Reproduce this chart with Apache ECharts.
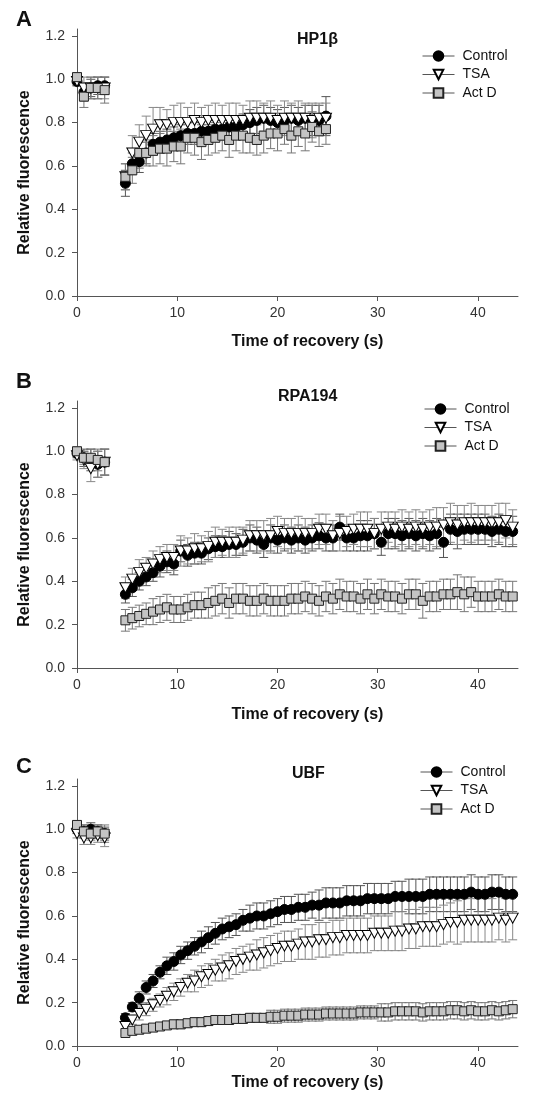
<!DOCTYPE html>
<html><head><meta charset="utf-8">
<script src="https://cdn.jsdelivr.net/npm/echarts@6/dist/echarts.min.js"></script>
<style>html,body{margin:0;padding:0;background:#fff}#c{width:542px;height:1097px}</style>
</head><body><div id="c"></div>
<script>
// ---------- DATA ----------
const timeA = [0,0.69,1.38,2.07,2.76, 4.83,5.52,6.21,6.90,7.59, 8.28,8.97,9.66,10.35,11.04, 11.73,12.42,13.11,13.80,14.49, 15.18,15.87,16.56,17.25,17.94, 18.63,19.32,20.01,20.70,21.39, 22.08,22.77,23.46,24.15,24.84];
const timeBC = [0,0.69,1.38,2.07,2.76, 4.83,5.52,6.21,6.90,7.59, 8.28,8.97,9.66,10.35,11.04, 11.73,12.42,13.11,13.80,14.49, 15.18,15.87,16.56,17.25,17.94, 18.63,19.32,20.01,20.70,21.39, 22.08,22.77,23.46,24.15,24.84, 25.53,26.22,26.91,27.60,28.29, 28.98,29.67,30.36,31.05,31.74, 32.43,33.12,33.81,34.50,35.19, 35.88,36.57,37.26,37.95,38.64, 39.33,40.02,40.71,41.40,42.09, 42.78,43.47];

// Panel A (HP1beta)
const ctrlA = [0.99,0.94,0.96,0.97,0.97, 0.52,0.61,0.62,0.66,0.70, 0.71,0.72,0.73,0.74,0.75, 0.75,0.76,0.76,0.77,0.77, 0.78,0.78,0.79,0.80,0.81, 0.82,0.81,0.80,0.81,0.82, 0.81,0.82,0.81,0.81,0.83];
const errCtrlA = [0.02,0.04,0.04,0.04,0.04, 0.06,0.05,0.05,0.05,0.05, 0.05,0.05,0.05,0.05,0.05, 0.05,0.05,0.05,0.05,0.05, 0.05,0.05,0.05,0.06,0.06, 0.06,0.06,0.06,0.06,0.06, 0.06,0.06,0.07,0.07,0.09];
const tsaA = [0.99,0.96,0.96,0.96,0.96, 0.55,0.66,0.71,0.74,0.77, 0.79,0.79,0.80,0.80,0.80, 0.81,0.80,0.81,0.81,0.81, 0.81,0.81,0.81,0.82,0.82, 0.82,0.82,0.81,0.82,0.82, 0.82,0.82,0.81,0.82,0.82];
const errTsaA = [0.02,0.05,0.05,0.05,0.05, 0.06,0.08,0.08,0.09,0.10, 0.08,0.07,0.08,0.09,0.07, 0.08,0.07,0.07,0.08,0.07, 0.08,0.08,0.07,0.08,0.08, 0.07,0.08,0.07,0.08,0.07, 0.08,0.07,0.08,0.07,0.07];
const actA = [1.01,0.92,0.96,0.96,0.95, 0.55,0.58,0.66,0.66,0.67, 0.68,0.68,0.69,0.69,0.73, 0.73,0.71,0.72,0.73,0.74, 0.72,0.74,0.74,0.73,0.72, 0.74,0.75,0.75,0.77,0.74, 0.76,0.75,0.78,0.76,0.77];
const errActA = [0.02,0.05,0.05,0.05,0.06, 0.06,0.06,0.07,0.06,0.07, 0.07,0.08,0.07,0.08,0.07, 0.08,0.08,0.07,0.07,0.07, 0.08,0.07,0.08,0.07,0.07, 0.08,0.07,0.08,0.07,0.08, 0.07,0.08,0.07,0.07,0.07];

// Panel B (RPA194)
const ctrlB = [0.99,0.97,0.96,0.94,0.95, 0.34,0.37,0.40,0.42,0.44, 0.47,0.49,0.48,0.54,0.52, 0.53,0.53,0.55,0.56,0.56, 0.57,0.57,0.58,0.60,0.59, 0.57,0.60,0.59,0.60,0.59, 0.60,0.59,0.60,0.61,0.60, 0.60,0.65,0.60,0.60,0.61, 0.61,0.62,0.58,0.62,0.62, 0.61,0.62,0.61,0.62,0.61, 0.62,0.58,0.64,0.63,0.64, 0.64,0.64,0.64,0.63,0.64, 0.63,0.63];
const errCtrlB = [0.02,0.04,0.05,0.06,0.06, 0.04,0.04,0.04,0.04,0.04, 0.05,0.05,0.05,0.05,0.05, 0.05,0.05,0.05,0.05,0.05, 0.06,0.05,0.06,0.06,0.06, 0.06,0.06,0.06,0.06,0.06, 0.06,0.06,0.06,0.06,0.06, 0.06,0.06,0.06,0.06,0.07, 0.07,0.07,0.06,0.07,0.07, 0.07,0.07,0.07,0.07,0.07, 0.07,0.07,0.07,0.08,0.07, 0.07,0.07,0.07,0.07,0.07, 0.07,0.07];
const tsaB = [0.98,0.96,0.92,0.94,0.95, 0.37,0.41,0.44,0.46,0.48, 0.50,0.51,0.51,0.54,0.54, 0.55,0.55,0.56,0.58,0.58, 0.58,0.58,0.59,0.61,0.61, 0.61,0.61,0.63,0.62,0.62, 0.62,0.62,0.62,0.64,0.64, 0.61,0.62,0.63,0.64,0.64, 0.64,0.62,0.64,0.65,0.64, 0.65,0.64,0.65,0.64,0.65, 0.65,0.66,0.67,0.66,0.67, 0.67,0.67,0.67,0.67,0.67, 0.68,0.65];
const errTsaB = [0.02,0.04,0.06,0.06,0.06, 0.05,0.05,0.06,0.05,0.06, 0.06,0.06,0.06,0.07,0.06, 0.07,0.06,0.07,0.07,0.06, 0.07,0.07,0.06,0.07,0.07, 0.07,0.08,0.07,0.07,0.07, 0.08,0.07,0.07,0.07,0.07, 0.07,0.08,0.07,0.07,0.08, 0.08,0.07,0.08,0.07,0.08, 0.08,0.08,0.08,0.08,0.08, 0.09,0.08,0.09,0.09,0.08, 0.09,0.08,0.08,0.08,0.09, 0.08,0.08];
const actB = [1.00,0.97,0.97,0.96,0.95, 0.22,0.23,0.24,0.25,0.26, 0.27,0.28,0.27,0.27,0.28, 0.29,0.29,0.30,0.31,0.32, 0.30,0.32,0.32,0.31,0.31, 0.32,0.31,0.31,0.31,0.32, 0.32,0.33,0.32,0.31,0.33, 0.32,0.34,0.33,0.33,0.32, 0.34,0.32,0.34,0.33,0.33, 0.32,0.34,0.34,0.31,0.33, 0.33,0.34,0.34,0.35,0.34, 0.35,0.33,0.33,0.33,0.34, 0.33,0.33];
const errActB = [0.02,0.03,0.04,0.05,0.06, 0.05,0.05,0.05,0.05,0.06, 0.06,0.06,0.06,0.06,0.06, 0.06,0.06,0.07,0.07,0.07, 0.07,0.07,0.07,0.07,0.07, 0.07,0.07,0.07,0.07,0.07, 0.07,0.07,0.07,0.07,0.07, 0.07,0.07,0.07,0.07,0.07, 0.07,0.07,0.07,0.07,0.07, 0.07,0.07,0.07,0.08,0.07, 0.07,0.07,0.07,0.08,0.08, 0.07,0.07,0.07,0.07,0.07, 0.07,0.07];

// Panel C (UBF)
const ctrlC = [1.00,0.99,1.00,0.99,0.98, 0.13,0.18,0.22,0.27,0.30, 0.34,0.37,0.39,0.42,0.44, 0.46,0.48,0.50,0.52,0.54, 0.55,0.56,0.58,0.59,0.60, 0.60,0.61,0.62,0.63,0.63, 0.64,0.64,0.65,0.65,0.66, 0.66,0.66,0.67,0.67,0.67, 0.68,0.68,0.68,0.68,0.69, 0.69,0.69,0.69,0.69,0.70, 0.70,0.70,0.70,0.70,0.70, 0.71,0.70,0.70,0.71,0.71, 0.70,0.70];
const errCtrlC = [0.02,0.03,0.03,0.03,0.03, 0.02,0.02,0.03,0.03,0.03, 0.03,0.04,0.04,0.04,0.04, 0.04,0.05,0.05,0.05,0.05, 0.05,0.05,0.05,0.06,0.06, 0.06,0.06,0.06,0.06,0.06, 0.06,0.06,0.06,0.07,0.07, 0.07,0.07,0.07,0.07,0.07, 0.07,0.07,0.07,0.07,0.07, 0.07,0.08,0.08,0.08,0.08, 0.08,0.08,0.08,0.08,0.08, 0.08,0.08,0.08,0.08,0.08, 0.08,0.08];
const tsaC = [0.98,0.96,0.96,0.97,0.96, 0.09,0.12,0.15,0.17,0.19, 0.21,0.23,0.25,0.27,0.29, 0.30,0.32,0.33,0.35,0.36, 0.37,0.39,0.40,0.41,0.42, 0.43,0.44,0.45,0.46,0.46, 0.47,0.48,0.48,0.49,0.49, 0.50,0.50,0.51,0.51,0.51, 0.51,0.52,0.52,0.52,0.53, 0.53,0.54,0.54,0.55,0.55, 0.55,0.56,0.57,0.57,0.58, 0.58,0.58,0.58,0.58,0.59, 0.58,0.59];
const errTsaC = [0.02,0.03,0.03,0.03,0.04, 0.02,0.02,0.03,0.03,0.03, 0.03,0.04,0.04,0.04,0.04, 0.05,0.05,0.05,0.05,0.06, 0.06,0.06,0.06,0.06,0.07, 0.07,0.07,0.07,0.07,0.07, 0.07,0.08,0.08,0.08,0.08, 0.08,0.08,0.08,0.08,0.08, 0.08,0.08,0.08,0.08,0.09, 0.09,0.09,0.09,0.09,0.09, 0.09,0.09,0.09,0.10,0.10, 0.10,0.10,0.10,0.10,0.10, 0.10,0.10];
const actC = [1.02,0.99,0.98,0.99,0.98, 0.06,0.07,0.075,0.08,0.085, 0.09,0.095,0.10,0.10,0.105, 0.11,0.11,0.115,0.12,0.12, 0.12,0.125,0.125,0.13,0.13, 0.13,0.135,0.135,0.14,0.14, 0.14,0.145,0.145,0.145,0.15, 0.15,0.15,0.15,0.15,0.155, 0.155,0.155,0.155,0.155,0.16, 0.16,0.16,0.16,0.155,0.16, 0.16,0.16,0.165,0.165,0.16, 0.165,0.16,0.16,0.165,0.16, 0.165,0.17];
const errActC = [0.02,0.03,0.03,0.03,0.04, 0.01,0.01,0.01,0.01,0.01, 0.01,0.01,0.02,0.02,0.02, 0.02,0.02,0.02,0.02,0.02, 0.02,0.02,0.02,0.02,0.02, 0.02,0.03,0.03,0.03,0.03, 0.03,0.03,0.03,0.03,0.03, 0.03,0.03,0.03,0.03,0.03, 0.03,0.03,0.04,0.04,0.04, 0.04,0.04,0.04,0.04,0.04, 0.04,0.04,0.04,0.04,0.04, 0.04,0.04,0.04,0.04,0.04, 0.04,0.04];

const xTickValues = [0,10,20,30,40];
const yTickValues = [0,0.2,0.4,0.6,0.8,1.0,1.2];
const panelLetters = ['A','B','C'];
const panelTitles = ['HP1\u03b2','RPA194','UBF'];
const seriesNames = ['Control','TSA','Act D'];
const xAxisTitle = 'Time of recovery (s)';
const yAxisTitle = 'Relative fluorescence';

// ---------- LAYOUT / STYLE ----------
const FONT = '"Liberation Sans", Arial, Helvetica, sans-serif';
// y axis runs 0..1.232 so that its line overshoots the 1.2 tick slightly, as in the original
const Y_MAX = 1.232;
const panels = [
  {time: timeA, vals:[ctrlA,tsaA,actA], errs:[errCtrlA,errTsaA,errActA], top:29, xNameGap:38, legLeft:422, legTop:49, tLeft:297, tTop:32, letterTop:9},
  {time: timeBC, vals:[ctrlB,tsaB,actB], errs:[errCtrlB,errTsaB,errActB], top:401, xNameGap:39, legLeft:424, legTop:402, tLeft:278, tTop:389, letterTop:371},
  {time: timeBC, vals:[ctrlC,tsaC,actC], errs:[errCtrlC,errTsaC,errActC], top:779, xNameGap:29, legLeft:420, legTop:765, tLeft:292, tTop:766, letterTop:756}
];
const symbolStyles = [
  {symbol:'circle', size:10, itemStyle:{color:'#000', borderColor:'#000', borderWidth:1}, err:'#555'},
  {symbol:'path://M0,0L10,0L5,9Z', size:[11,10], itemStyle:{color:'#fff', borderColor:'#000', borderWidth:1}, err:'#888'},
  {symbol:'rect', size:9, itemStyle:{color:'#c4c4c4', borderColor:'#222', borderWidth:1}, err:'#777'}
];
const CAP = 4.5;

function errRenderer(color){
  return function(params, api){
    const x = api.value(0), lo = api.value(1), hi = api.value(2);
    const a = api.coord([x, hi]), b = api.coord([x, lo]);
    const st = {stroke: color, lineWidth: 1};
    return {type:'group', children:[
      {type:'line', shape:{x1:a[0], y1:a[1], x2:b[0], y2:b[1]}, style:st},
      {type:'line', shape:{x1:a[0]-CAP, y1:a[1], x2:a[0]+CAP, y2:a[1]}, style:st},
      {type:'line', shape:{x1:b[0]-CAP, y1:b[1], x2:b[0]+CAP, y2:b[1]}, style:st}
    ]};
  };
}

const grid = [], xAxis = [], yAxis = [], series = [], legend = [], title = [];
panels.forEach((p, pi) => {
  grid.push({left:77, width:441, top:p.top, height:267});
  xAxis.push({
    type:'value', gridIndex:pi, min:0, max:44, interval:10,
    name:xAxisTitle, nameLocation:'middle', nameGap:p.xNameGap,
    nameTextStyle:{fontFamily:FONT, fontSize:16, fontWeight:'bold', color:'#111', padding:[0,0,0,20]},
    axisLine:{onZero:false, lineStyle:{color:'#555', width:1}},
    axisTick:{show:true, length:5, lineStyle:{color:'#555'}, customValues:xTickValues},
    axisLabel:{fontFamily:FONT, fontSize:14, color:'#333', margin:10, customValues:xTickValues},
    splitLine:{show:false}
  });
  yAxis.push({
    type:'value', gridIndex:pi, min:0, max:Y_MAX, interval:0.2,
    name:yAxisTitle, nameLocation:'middle', nameGap:44, nameRotate:90,
    nameTextStyle:{fontFamily:FONT, fontSize:16, fontWeight:'bold', color:'#111', padding:[0,20,0,0]},
    axisLine:{show:true, lineStyle:{color:'#555', width:1}},
    axisTick:{show:true, length:5, lineStyle:{color:'#555'}, customValues:yTickValues},
    axisLabel:{fontFamily:FONT, fontSize:14, color:'#333', margin:12, customValues:yTickValues, formatter:v => v.toFixed(1)},
    splitLine:{show:false}
  });
  seriesNames.forEach((nm, si) => {
    const sty = symbolStyles[si];
    const v = p.vals[si], e = p.errs[si];
    series.push({
      type:'custom', name:nm + ' SD', xAxisIndex:pi, yAxisIndex:pi, silent:true,
      renderItem: errRenderer(sty.err), encode:{x:0, y:[1,2]},
      data: p.time.map((t,i) => [t, v[i]-e[i], v[i]+e[i]])
    });
    series.push({
      type:'line', name:nm, xAxisIndex:pi, yAxisIndex:pi, silent:true,
      symbol:sty.symbol, symbolSize:sty.size, showSymbol:true, showAllSymbol:true,
      itemStyle:sty.itemStyle, lineStyle:{width:0, opacity:0},
      emphasis:{disabled:true},
      data: p.time.map((t,i) => [t, v[i]])
    });
  });
  legend.push({
    orient:'vertical', left:p.legLeft, top:p.legTop, padding:0, itemWidth:32, itemHeight:12, itemGap:4.5,
    data:seriesNames, selectedMode:false,
    textStyle:{fontFamily:FONT, fontSize:14, color:'#111', padding:[0,0,0,3]},
    lineStyle:{width:1, color:'#555', opacity:1}
  });
  title.push({text:panelLetters[pi], left:16, top:p.letterTop, padding:0,
    textStyle:{fontFamily:FONT, fontSize:22, fontWeight:'bold', color:'#111'}});
  title.push({text:panelTitles[pi], left:p.tLeft, top:p.tTop, padding:0,
    textStyle:{fontFamily:FONT, fontSize:16, fontWeight:'bold', color:'#111'}});
});

const chart = echarts.init(document.getElementById('c'), null, {renderer:'canvas'});
chart.setOption({backgroundColor:'#fff', animation:false, grid, xAxis, yAxis, series, legend, title});
</script></body></html>
